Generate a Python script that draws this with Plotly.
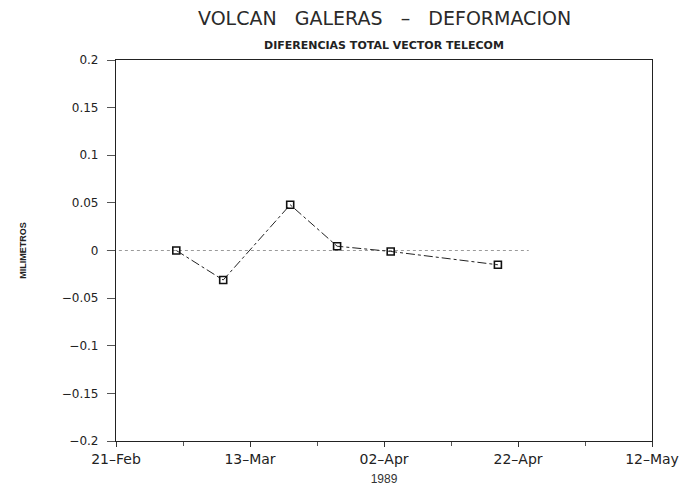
import plotly.graph_objects as go

# Survey dates and total-vector differences (mm)
fechas = ["1989-03-02", "1989-03-09", "1989-03-19", "1989-03-26", "1989-04-03", "1989-04-19"]
diferencias = [0.0, -0.031, 0.048, 0.0045, -0.001, -0.015]

# Axis ticks
x_ticks = ["1989-02-21", "1989-03-13", "1989-04-02", "1989-04-22", "1989-05-12"]
x_labels = ["21\u2013Feb", "13\u2013Mar", "02\u2013Apr", "22\u2013Apr", "12\u2013May"]
y_ticks = [0.2, 0.15, 0.1, 0.05, 0, -0.05, -0.1, -0.15, -0.2]
y_labels = ["0.2", "0.15", "0.1", "0.05", "0", "\u22120.05", "\u22120.1", "\u22120.15", "\u22120.2"]

FONT = "Liberation Sans, Arial, sans-serif"
WIDE = "DejaVu Sans, sans-serif"

fig = go.Figure()

fig.add_trace(go.Scatter(
    x=fechas, y=diferencias,
    mode="lines+markers",
    line=dict(color="#222222", width=1, dash="dashdot"),
    marker=dict(symbol="square-open", size=7, color="#111111", line=dict(width=1.6)),
    showlegend=False,
    cliponaxis=False,
))

# light zero reference line
fig.add_shape(type="line", xref="paper", yref="y", x0=-0.017, x1=0.77, y0=0, y1=0,
              line=dict(color="#9a9a9a", width=1, dash="dot"), layer="below")

# titles
fig.add_annotation(text="VOLCAN   GALERAS   \u2013   DEFORMACION", xref="paper", yref="paper",
                   x=0.5, y=1.11, xanchor="center", yanchor="middle", showarrow=False,
                   font=dict(size=19, family=WIDE, color="#2a2a2a"))
fig.add_annotation(text="<b>DIFERENCIAS TOTAL VECTOR TELECOM</b>", xref="paper", yref="paper",
                   x=0.5, y=1.039, xanchor="center", yanchor="middle", showarrow=False,
                   font=dict(size=11, family=WIDE, color="#222222"))
fig.add_annotation(text="<b>MILIMETROS</b>", xref="paper", yref="paper",
                   x=-0.175, y=0.5, xanchor="center", yanchor="middle", showarrow=False,
                   textangle=-90, font=dict(size=9, family=FONT, color="#222222"))

fig.update_layout(
    width=691, height=499,
    margin=dict(l=116, r=37, t=60, b=58),
    paper_bgcolor="white", plot_bgcolor="white",
    font=dict(family=FONT, color="#222222"),
    xaxis=dict(
        type="date",
        range=["1989-02-21", "1989-05-12"],
        tickmode="array", tickvals=x_ticks, ticktext=x_labels,
        ticks="outside", ticklen=5, tickcolor="#333333",
        minor=dict(dtick=10 * 86400000, tick0="1989-02-21", ticks="outside", ticklen=4, tickcolor="#555555"),
        showline=True, linecolor="#222222", linewidth=1.2, mirror=True,
        showgrid=False, zeroline=False,
        tickfont=dict(size=14, family=WIDE, color="#222222"),
        title=dict(text="1989", font=dict(size=12, family=FONT, color="#333333"), standoff=8),
    ),
    yaxis=dict(
        range=[-0.2, 0.2],
        tickmode="array", tickvals=y_ticks, ticktext=y_labels,
        ticks="outside", ticklen=8, tickcolor="#555555",
        ticklabelstandoff=6,
        showline=True, linecolor="#222222", linewidth=1.2, mirror=True,
        showgrid=False, zeroline=False,
        tickfont=dict(size=12, family=WIDE, color="#222222"),
    ),
)

fig.write_html("out.html")
